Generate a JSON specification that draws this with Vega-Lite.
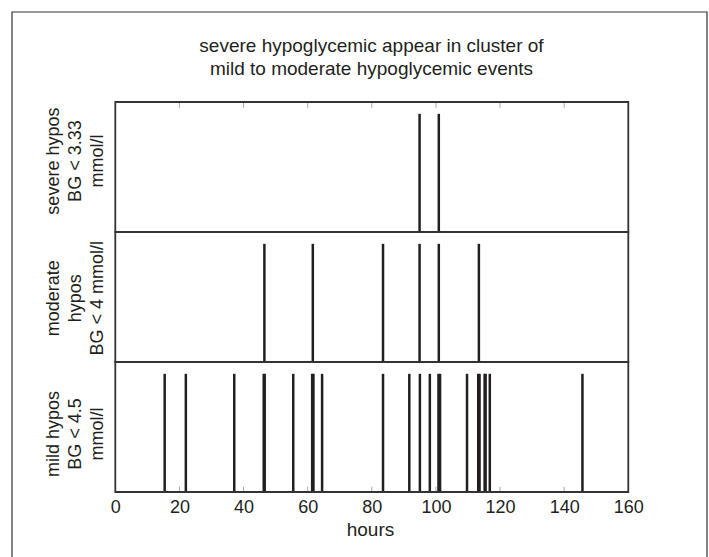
{
  "$schema": "https://vega.github.io/schema/vega-lite/v6.json",
  "width": 695,
  "height": 545,
  "autosize": {"type": "none"},
  "padding": {"left": 12, "top": 12, "right": 2, "bottom": 0},
  "background": "white",
  "title": {
    "text": ["severe hypoglycemic appear in cluster of", "mild to moderate hypoglycemic events"],
    "fontSize": 19,
    "fontWeight": "normal",
    "font": "Liberation Sans",
    "color": "#231f20",
    "anchor": "middle",
    "dx": 12,
    "offset": -68,
    "lineHeight": 23,
    "frame": "group"
  },
  "config": {
    "view": {"stroke": null},
    "font": "Liberation Sans",
    "axisX": {
      "domain": false, "ticks": false, "grid": false,
      "offset": -65,
      "labelPadding": 6, "labelFontSize": 18, "labelColor": "#231f20",
      "labelFont": "Liberation Sans", "labelFlush": false, "labelOverlap": false,
      "titleFontSize": 19, "titleFontWeight": "normal",
      "titleColor": "#231f20", "titleFont": "Liberation Sans",
      "titlePadding": 4, "titleX": 358
    }
  },
  "datasets": {
    "events": [
      {"level": "mild", "hour": 15.4},
      {"level": "mild", "hour": 22.0},
      {"level": "mild", "hour": 37.1},
      {"level": "mild", "hour": 46.3},
      {"level": "mild", "hour": 46.6},
      {"level": "mild", "hour": 55.5},
      {"level": "mild", "hour": 61.4},
      {"level": "mild", "hour": 61.8},
      {"level": "mild", "hour": 64.5},
      {"level": "mild", "hour": 83.5},
      {"level": "mild", "hour": 91.7},
      {"level": "mild", "hour": 95.0},
      {"level": "mild", "hour": 98.1},
      {"level": "mild", "hour": 100.8},
      {"level": "mild", "hour": 101.3},
      {"level": "mild", "hour": 109.7},
      {"level": "mild", "hour": 113.2},
      {"level": "mild", "hour": 113.6},
      {"level": "mild", "hour": 115.2},
      {"level": "mild", "hour": 115.5},
      {"level": "mild", "hour": 116.8},
      {"level": "mild", "hour": 145.7},
      {"level": "moderate", "hour": 46.5},
      {"level": "moderate", "hour": 61.6},
      {"level": "moderate", "hour": 83.5},
      {"level": "moderate", "hour": 94.9},
      {"level": "moderate", "hour": 100.9},
      {"level": "moderate", "hour": 113.4},
      {"level": "severe", "hour": 94.9},
      {"level": "severe", "hour": 100.9}
    ],
    "ticks": [
      {"hour": 20}, {"hour": 40}, {"hour": 60}, {"hour": 80},
      {"hour": 100}, {"hour": 120}, {"hour": 140}
    ],
    "labels": [
      {"level": "severe", "label": "severe hypos\nBG < 3.33\nmmol/l"},
      {"level": "moderate", "label": "moderate\nhypos\nBG < 4 mmol/l"},
      {"level": "mild", "label": "mild hypos\nBG < 4.5\nmmol/l"}
    ]
  },
  "layer": [
    {
      "data": {"values": [{}]},
      "mark": {"type": "rect", "fill": "white", "fillOpacity": 0, "stroke": "#333333", "strokeWidth": 1.2},
      "encoding": {
        "x": {"datum": -32.22, "type": "quantitative", "scale": {"domain": [-32.22, 184.55], "nice": false, "zero": false}, "title": "hours", "axis": {"values": [0, 20, 40, 60, 80, 100, 120, 140, 160]}},
        "x2": {"datum": 184.55},
        "y": {"datum": -0.7, "type": "quantitative", "scale": {"domain": [-0.55, 4.0616], "nice": false, "zero": false}, "axis": null},
        "y2": {"datum": 4.0616}
      }
    },
    {
      "data": {"name": "events"},
      "transform": [{"filter": "datum.level === 'mild'"}],
      "mark": {"type": "rule", "strokeWidth": 2.5, "color": "#231f20"},
      "encoding": {
        "x": {"field": "hour", "type": "quantitative", "scale": {"domain": [-32.22, 184.55], "nice": false, "zero": false}, "title": "hours", "axis": {"values": [0, 20, 40, 60, 80, 100, 120, 140, 160]}},
        "y": {"datum": 0, "type": "quantitative", "scale": {"domain": [-0.55, 4.0616], "nice": false, "zero": false}, "axis": null},
        "y2": {"datum": 1}
      }
    },
    {
      "data": {"name": "events"},
      "transform": [{"filter": "datum.level === 'moderate'"}],
      "mark": {"type": "rule", "strokeWidth": 2.5, "color": "#231f20"},
      "encoding": {
        "x": {"field": "hour", "type": "quantitative", "scale": {"domain": [-32.22, 184.55], "nice": false, "zero": false}, "title": "hours", "axis": {"values": [0, 20, 40, 60, 80, 100, 120, 140, 160]}},
        "y": {"datum": 1.1, "type": "quantitative", "scale": {"domain": [-0.55, 4.0616], "nice": false, "zero": false}, "axis": null},
        "y2": {"datum": 2.1}
      }
    },
    {
      "data": {"name": "events"},
      "transform": [{"filter": "datum.level === 'severe'"}],
      "mark": {"type": "rule", "strokeWidth": 2.5, "color": "#231f20"},
      "encoding": {
        "x": {"field": "hour", "type": "quantitative", "scale": {"domain": [-32.22, 184.55], "nice": false, "zero": false}, "title": "hours", "axis": {"values": [0, 20, 40, 60, 80, 100, 120, 140, 160]}},
        "y": {"datum": 2.2, "type": "quantitative", "scale": {"domain": [-0.55, 4.0616], "nice": false, "zero": false}, "axis": null},
        "y2": {"datum": 3.2}
      }
    },
    {
      "data": {"name": "ticks"},
      "mark": {"type": "rule", "strokeWidth": 1, "color": "#aaaaaa"},
      "encoding": {
        "x": {"field": "hour", "type": "quantitative", "scale": {"domain": [-32.22, 184.55], "nice": false, "zero": false}, "title": "hours", "axis": {"values": [0, 20, 40, 60, 80, 100, 120, 140, 160]}},
        "y": {"datum": 0, "type": "quantitative", "scale": {"domain": [-0.55, 4.0616], "nice": false, "zero": false}, "axis": null},
        "y2": {"datum": 0.045}
      }
    },
    {
      "data": {"name": "ticks"},
      "mark": {"type": "rule", "strokeWidth": 1, "color": "#aaaaaa"},
      "encoding": {
        "x": {"field": "hour", "type": "quantitative", "scale": {"domain": [-32.22, 184.55], "nice": false, "zero": false}, "title": "hours", "axis": {"values": [0, 20, 40, 60, 80, 100, 120, 140, 160]}},
        "y": {"datum": 3.3, "type": "quantitative", "scale": {"domain": [-0.55, 4.0616], "nice": false, "zero": false}, "axis": null},
        "y2": {"datum": 3.25}
      }
    },
    {
      "data": {"values": [{}]},
      "mark": {"type": "rect", "fill": "white", "fillOpacity": 0, "stroke": "#333333", "strokeWidth": 1.8},
      "encoding": {
        "x": {"datum": 0, "type": "quantitative", "scale": {"domain": [-32.22, 184.55], "nice": false, "zero": false}, "title": "hours", "axis": {"values": [0, 20, 40, 60, 80, 100, 120, 140, 160]}},
        "x2": {"datum": 160},
        "y": {"datum": 0, "type": "quantitative", "scale": {"domain": [-0.55, 4.0616], "nice": false, "zero": false}, "axis": null},
        "y2": {"datum": 1.1}
      }
    },
    {
      "data": {"values": [{}]},
      "mark": {"type": "rect", "fill": "white", "fillOpacity": 0, "stroke": "#333333", "strokeWidth": 1.8},
      "encoding": {
        "x": {"datum": 0, "type": "quantitative", "scale": {"domain": [-32.22, 184.55], "nice": false, "zero": false}, "title": "hours", "axis": {"values": [0, 20, 40, 60, 80, 100, 120, 140, 160]}},
        "x2": {"datum": 160},
        "y": {"datum": 1.1, "type": "quantitative", "scale": {"domain": [-0.55, 4.0616], "nice": false, "zero": false}, "axis": null},
        "y2": {"datum": 2.2}
      }
    },
    {
      "data": {"values": [{}]},
      "mark": {"type": "rect", "fill": "white", "fillOpacity": 0, "stroke": "#333333", "strokeWidth": 1.8},
      "encoding": {
        "x": {"datum": 0, "type": "quantitative", "scale": {"domain": [-32.22, 184.55], "nice": false, "zero": false}, "title": "hours", "axis": {"values": [0, 20, 40, 60, 80, 100, 120, 140, 160]}},
        "x2": {"datum": 160},
        "y": {"datum": 2.2, "type": "quantitative", "scale": {"domain": [-0.55, 4.0616], "nice": false, "zero": false}, "axis": null},
        "y2": {"datum": 3.3}
      }
    },
    {
      "data": {"name": "labels"},
      "transform": [{"filter": "datum.level === 'mild'"}],
      "mark": {"type": "text", "angle": 270, "align": "center", "baseline": "middle", "lineBreak": "\n", "lineHeight": 22, "fontSize": 18, "color": "#231f20", "font": "Liberation Sans"},
      "encoding": {
        "x": {"datum": -19.1, "type": "quantitative", "scale": {"domain": [-32.22, 184.55], "nice": false, "zero": false}, "title": "hours", "axis": {"values": [0, 20, 40, 60, 80, 100, 120, 140, 160]}},
        "y": {"datum": 0.49, "type": "quantitative", "scale": {"domain": [-0.55, 4.0616], "nice": false, "zero": false}, "axis": null},
        "text": {"field": "label"}
      }
    },
    {
      "data": {"name": "labels"},
      "transform": [{"filter": "datum.level === 'moderate'"}],
      "mark": {"type": "text", "angle": 270, "align": "center", "baseline": "middle", "lineBreak": "\n", "lineHeight": 22, "fontSize": 18, "color": "#231f20", "font": "Liberation Sans"},
      "encoding": {
        "x": {"datum": -19.1, "type": "quantitative", "scale": {"domain": [-32.22, 184.55], "nice": false, "zero": false}, "title": "hours", "axis": {"values": [0, 20, 40, 60, 80, 100, 120, 140, 160]}},
        "y": {"datum": 1.64, "type": "quantitative", "scale": {"domain": [-0.55, 4.0616], "nice": false, "zero": false}, "axis": null},
        "text": {"field": "label"}
      }
    },
    {
      "data": {"name": "labels"},
      "transform": [{"filter": "datum.level === 'severe'"}],
      "mark": {"type": "text", "angle": 270, "align": "center", "baseline": "middle", "lineBreak": "\n", "lineHeight": 22, "fontSize": 18, "color": "#231f20", "font": "Liberation Sans"},
      "encoding": {
        "x": {"datum": -19.1, "type": "quantitative", "scale": {"domain": [-32.22, 184.55], "nice": false, "zero": false}, "title": "hours", "axis": {"values": [0, 20, 40, 60, 80, 100, 120, 140, 160]}},
        "y": {"datum": 2.8, "type": "quantitative", "scale": {"domain": [-0.55, 4.0616], "nice": false, "zero": false}, "axis": null},
        "text": {"field": "label"}
      }
    }
  ]
}
